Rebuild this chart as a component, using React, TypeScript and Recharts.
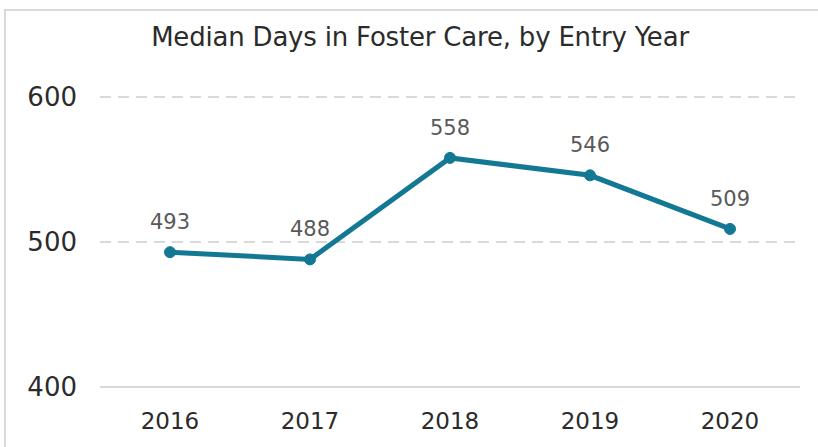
import { LineChart, Line, XAxis, YAxis, CartesianGrid, LabelList } from "recharts";

const years = ["2016", "2017", "2018", "2019", "2020"];
const medianDays = [493, 488, 558, 546, 509];
const yTicks = [400, 500, 600];

const data = years.map((year, i) => ({ year, days: medianDays[i] }));

const FONT = "'DejaVu Sans', sans-serif";

export default function App() {
  return (
    <div
      style={{
        position: "absolute",
        left: 0,
        top: 0,
        width: 818,
        height: 447,
        overflow: "hidden",
        background: "#fff",
        fontFamily: FONT,
      }}
    >
      <div
        style={{
          position: "absolute",
          left: 4,
          top: 9,
          width: 830,
          height: 460,
          border: "2px solid #d9d9d9",
          boxSizing: "border-box",
        }}
      />
      <div
        style={{
          position: "absolute",
          left: 0,
          top: 22,
          width: 840,
          textAlign: "center",
          fontSize: 26,
          letterSpacing: -0.2,
          color: "#2b2b2b",
        }}
      >
        Median Days in Foster Care, by Entry Year
      </div>
      <LineChart
        width={818}
        height={447}
        data={data}
        margin={{ top: 97, right: 18, bottom: 20, left: 0 }}
        style={{ position: "absolute", left: 0, top: 0 }}
      >
        <CartesianGrid
          vertical={false}
          stroke="#d9d9d9"
          strokeWidth={2}
          strokeDasharray="11 7"
        />
        <XAxis
          dataKey="year"
          height={40}
          padding={{ left: 70, right: 70 }}
          tickLine={false}
          axisLine={{ stroke: "#d9d9d9", strokeWidth: 2 }}
          tick={{ fill: "#2b2b2b", fontSize: 23, fontFamily: FONT }}
          tickMargin={20}
        />
        <YAxis
          width={100}
          domain={[400, 600]}
          ticks={yTicks}
          axisLine={false}
          tickLine={false}
          tickSize={0}
          tickMargin={23}
          tick={{ fill: "#2b2b2b", fontSize: 26, fontFamily: FONT }}
        />
        <Line
          dataKey="days"
          stroke="#127894"
          strokeWidth={5}
          dot={{ r: 5.5, fill: "#127894", stroke: "#127894", strokeWidth: 1 }}
          isAnimationActive={false}
        >
          <LabelList
            dataKey="days"
            position="top"
            offset={23}
            fill="#595959"
            fontSize={21}
            fontFamily={FONT}
          />
        </Line>
      </LineChart>
    </div>
  );
}
